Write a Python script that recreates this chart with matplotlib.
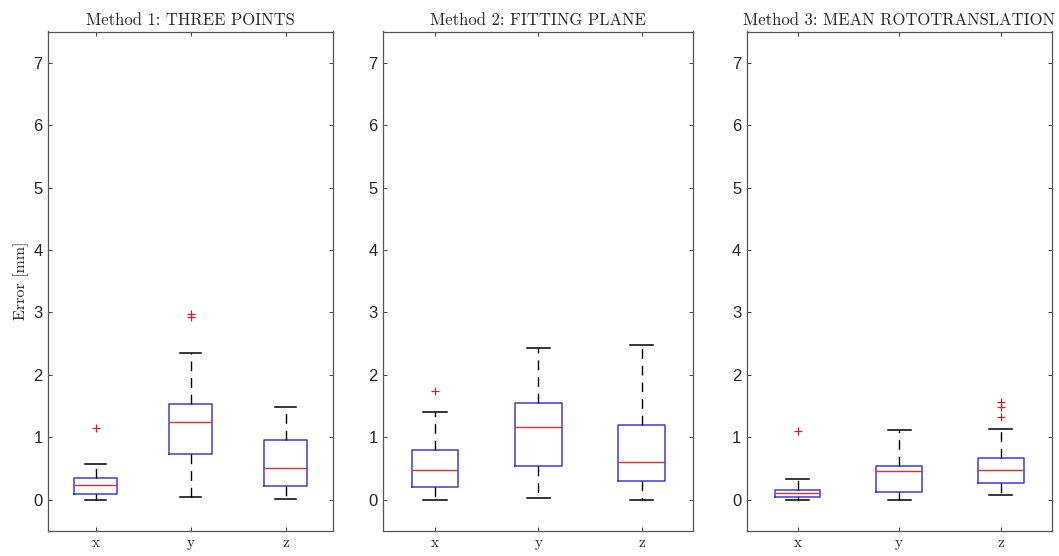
import matplotlib
matplotlib.use("Agg")
import matplotlib.pyplot as plt

# box statistics, one row per method, columns x, y, z
axes_labels = ["x", "y", "z"]
titles = ["Method 1: THREE POINTS", "Method 2: FITTING PLANE",
          "Method 3: MEAN ROTOTRANSLATION"]
medians = [[0.24, 1.24, 0.51], [0.47, 1.16, 0.60], [0.10, 0.45, 0.47]]
q1s = [[0.085, 0.73, 0.22], [0.20, 0.53, 0.30], [0.045, 0.125, 0.27]]
q3s = [[0.35, 1.53, 0.955], [0.79, 1.55, 1.19], [0.15, 0.53, 0.66]]
whis_lo = [[0.0, 0.04, 0.01], [0.0, 0.02, 0.0], [0.0, 0.0, 0.07]]
whis_hi = [[0.57, 2.35, 1.48], [1.41, 2.43, 2.48], [0.33, 1.11, 1.13]]
outliers = [[[1.15], [2.97, 2.92], []],
            [[1.74], [], []],
            [[1.09], [], [1.56, 1.48, 1.33]]]

W, H = 1059, 556
# axes boxes in pixels: left, right
panels_px = [(48.3, 333.3), (383.3, 693.3), (746.7, 1051.7)]
top_px, bot_px = 31.5, 530.7

serif = "cmr10"
grey = "#262626"

fig = plt.figure(figsize=(W / 100, H / 100), dpi=100)

for k in range(3):
    l, r = panels_px[k]
    ax = fig.add_axes([l / W, 1 - bot_px / H, (r - l) / W, (bot_px - top_px) / H])
    stats = []
    for j in range(3):
        stats.append(dict(med=medians[k][j], q1=q1s[k][j], q3=q3s[k][j],
                          whislo=whis_lo[k][j], whishi=whis_hi[k][j],
                          fliers=outliers[k][j]))
    ax.bxp(stats, positions=[1, 2, 3], widths=0.45,
           boxprops=dict(color="#3c3cdc", linewidth=1.1),
           medianprops=dict(color="#dc3232", linewidth=1.0),
           whiskerprops=dict(color="black", linewidth=1.0, linestyle=(0, (7, 5))),
           capprops=dict(color="black", linewidth=1.1),
           flierprops=dict(marker="+", markeredgecolor="#d02020",
                           markersize=6, markeredgewidth=0.9, linestyle="none"))
    ax.set_xlim(0.5, 3.5)
    ax.set_ylim(-0.5, 7.5)
    ax.set_yticks(range(0, 8))
    ax.set_xticks([1, 2, 3])
    ax.set_xticklabels(axes_labels, family=serif, fontsize=11, color=grey)
    for t in ax.get_yticklabels():
        t.set_family("Liberation Sans")
        t.set_fontsize(12)
        t.set_color(grey)
    ax.tick_params(direction="in", top=True, right=True, length=3,
                   color=grey, width=0.6, pad=4)
    for s in ax.spines.values():
        s.set_color("#555555")
        s.set_linewidth(0.9)
    ax.set_title(titles[k], family=serif, fontsize=12, color=grey, pad=5)
    if k == 0:
        ax.set_ylabel("Error [mm]", family=serif, fontsize=11.5, color=grey,
                      labelpad=3)

fig.savefig("out.png", dpi=100)
